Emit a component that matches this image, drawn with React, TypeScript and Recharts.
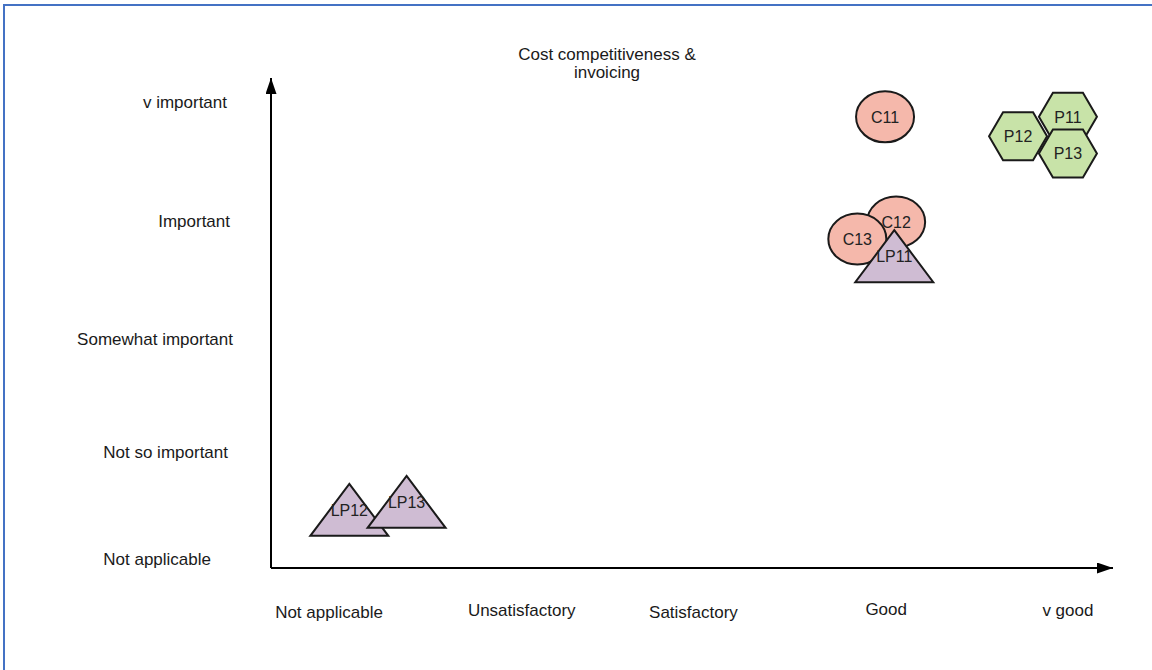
import { ScatterChart, Scatter, XAxis, YAxis } from 'recharts'

const ratingLabels = ['Not applicable', 'Unsatisfactory', 'Satisfactory', 'Good', 'v good']
const importanceLabels = ['Not applicable', 'Not so important', 'Somewhat important', 'Important', 'v important']

// customer scores
const customerNames = ['C11', 'C12', 'C13']
const customerRating = [3.01, 3.07, 2.86]
const customerImportance = [3.87, 2.95, 2.8]

// provider scores
const providerNames = ['P12', 'P11', 'P13']
const providerRating = [3.73, 4.0, 4.0]
const providerImportance = [3.7, 3.87, 3.55]

// logistics partner scores
const partnerNames = ['LP12', 'LP13', 'LP11']
const partnerRating = [0.11, 0.42, 3.06]
const partnerImportance = [0.43, 0.5, 2.65]

interface Point {
  name: string
  rating: number
  importance: number
}

const toPoints = (names: string[], xs: number[], ys: number[]): Point[] =>
  names.map((name, i) => ({ name, rating: xs[i], importance: ys[i] }))

const customers = toPoints(customerNames, customerRating, customerImportance)
const providers = toPoints(providerNames, providerRating, providerImportance)
const partners = toPoints(partnerNames, partnerRating, partnerImportance)

const FONT = '"Liberation Sans", Arial, sans-serif'
const INK = '#1a1a1a'

// the captions were placed by hand, so they sit a little off the grid
const ratingNudge = [0, 8, -5, 3, 0]
const ratingLift = [1, -1, 1, -2, -1]
const importanceNudge = [-19, -2, 3, 0, -3]
const importanceLift = [0, 7, 9, 5, 0]

function RatingTick({ x, y, payload }: any) {
  const i = payload.value
  return (
    <text x={x + ratingNudge[i]} y={y + 49 + ratingLift[i]} textAnchor="middle" fontSize={17} fontFamily={FONT} fill={INK}>
      {ratingLabels[i]}
    </text>
  )
}

function ImportanceTick({ x, y, payload }: any) {
  const i = payload.value
  return (
    <text x={x - 41 + importanceNudge[i]} y={y + 6 + importanceLift[i]} textAnchor="end" fontSize={17} fontFamily={FONT} fill={INK}>
      {importanceLabels[i]}
    </text>
  )
}

function Caption({ cx, cy, name }: { cx: number; cy: number; name: string }) {
  return (
    <text x={cx} y={cy + 6} textAnchor="middle" fontSize={16} fontFamily={FONT} fill="#222">
      {name}
    </text>
  )
}

function Bubble({ cx, cy, payload }: any) {
  return (
    <g>
      <ellipse cx={cx} cy={cy} rx={29} ry={25.5} fill="#f5b8ab" stroke={INK} strokeWidth={2} />
      <Caption cx={cx} cy={cy} name={payload.name} />
    </g>
  )
}

function Hexagon({ cx, cy, payload }: any) {
  const pts = [
    [-29, 0], [-15, -24], [15, -24], [29, 0], [15, 24], [-15, 24],
  ].map(([dx, dy]) => `${cx + dx},${cy + dy}`).join(' ')
  return (
    <g>
      <polygon points={pts} fill="#c8e3a8" stroke={INK} strokeWidth={2} />
      <Caption cx={cx} cy={cy} name={payload.name} />
    </g>
  )
}

function Triangle({ cx, cy, payload }: any) {
  const pts = `${cx},${cy - 26} ${cx + 39},${cy + 26} ${cx - 39},${cy + 26}`
  return (
    <g>
      <polygon points={pts} fill="#cfbcd3" stroke={INK} strokeWidth={2} strokeLinejoin="miter" />
      <Caption cx={cx} cy={cy} name={payload.name} />
    </g>
  )
}

export default function App() {
  return (
    <div style={{ position: 'absolute', left: 0, top: 0, width: 1152, height: 670, background: '#fff' }}>
      <div
        style={{
          position: 'absolute',
          left: 3,
          top: 4,
          right: 0,
          bottom: 0,
          borderTop: '2px solid #4472c4',
          borderLeft: '2px solid #4472c4',
        }}
      />
      <ScatterChart width={1152} height={670} margin={{ top: 78, right: 39, bottom: 0, left: 0 }}>
        <defs>
          <marker
            id="axisArrow"
            markerUnits="userSpaceOnUse"
            markerWidth={16}
            markerHeight={11}
            refX={16}
            refY={5.5}
            orient="auto-start-reverse"
          >
            <path d="M0,0 L16,5.5 L0,11 Z" fill="#000" />
          </marker>
        </defs>
        <text x={607} y={60} textAnchor="middle" fontSize={17} fontFamily={FONT} fill={INK}>
          Cost competitiveness &amp;
        </text>
        <text x={607} y={78} textAnchor="middle" fontSize={17} fontFamily={FONT} fill={INK}>
          invoicing
        </text>
        <XAxis
          type="number"
          dataKey="rating"
          domain={[-0.314, 4.244]}
          ticks={[0, 1, 2, 3, 4]}
          allowDataOverflow
          height={102}
          tickSize={0}
          tickMargin={0}
          tickLine={false}
          axisLine={{ stroke: '#000', strokeWidth: 2, markerEnd: 'url(#axisArrow)' }}
          tick={<RatingTick />}
        />
        <YAxis
          type="number"
          dataKey="importance"
          domain={[-0.079, 4.21]}
          ticks={[0, 1, 2, 3, 4]}
          allowDataOverflow
          width={271}
          tickSize={0}
          tickMargin={0}
          tickLine={false}
          axisLine={{ stroke: '#000', strokeWidth: 2, markerStart: 'url(#axisArrow)' }}
          tick={<ImportanceTick />}
        />
        <Scatter data={customers} shape={<Bubble />} isAnimationActive={false} />
        <Scatter data={providers} shape={<Hexagon />} isAnimationActive={false} />
        <Scatter data={partners} shape={<Triangle />} isAnimationActive={false} />
      </ScatterChart>
    </div>
  )
}
